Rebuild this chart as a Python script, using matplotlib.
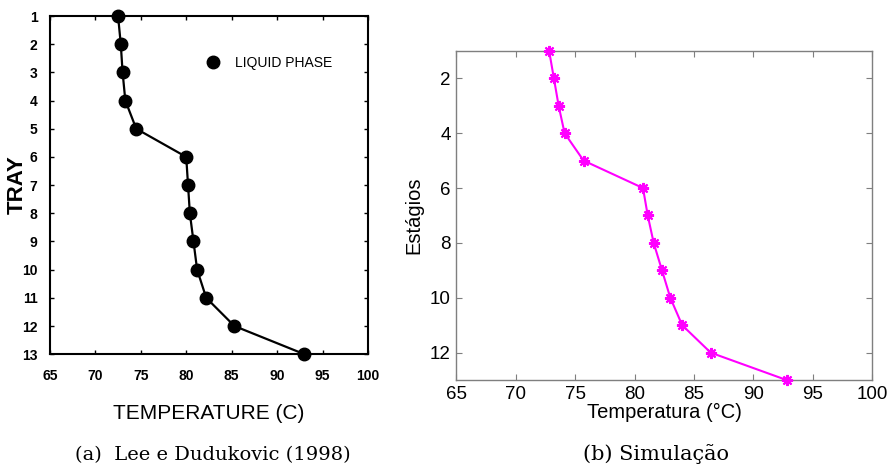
import matplotlib.pyplot as plt
from matplotlib.lines import Line2D

# Dados
estagios = list(range(1, 14))
temp_lee = [72.5, 72.8, 73.0, 73.3, 74.5, 80.0, 80.2, 80.4, 80.8, 81.2, 82.2, 85.3, 93.0]
temp_sim = [72.8, 73.2, 73.6, 74.1, 75.7, 80.7, 81.1, 81.6, 82.3, 83.0, 84.0, 86.4, 92.8]
xticks = [65, 70, 75, 80, 85, 90, 95, 100]

plt.rcParams['font.family'] = 'Liberation Sans'

fig = plt.figure(figsize=(8.91, 4.71), dpi=100)

# (a) Lee e Dudukovic
ax1 = fig.add_axes([0.056, 0.248, 0.357, 0.718])
ax1.plot(temp_lee, estagios, color='black', lw=1.6, marker='o', ms=9, clip_on=False, zorder=3)
ax1.set_xlim(65, 100)
ax1.set_ylim(13, 1)
ax1.set_xticks(xticks)
ax1.set_yticks(estagios)
ax1.tick_params(direction='in', top=True, right=True, length=3, width=1, labelsize=10)
ax1.tick_params(axis='x', pad=11)
ax1.tick_params(axis='y', pad=9)
for lab in ax1.get_xticklabels() + ax1.get_yticklabels():
    lab.set_fontweight('bold')
for s in ax1.spines.values():
    s.set_linewidth(1.5)
ax1.set_xlabel('TEMPERATURE (C)', fontsize=15, labelpad=15)
ax1.set_ylabel('TRAY', fontsize=16, fontweight='bold')
ax1.yaxis.set_label_coords(-0.07, 0.5)
h = Line2D([], [], color='black', marker='o', ms=9, ls='none')
ax1.legend([h], ['LIQUID PHASE'], loc='center left', bbox_to_anchor=(0.49, 0.862),
           borderaxespad=0, borderpad=0, handlelength=1, handletextpad=1.1,
           frameon=False, fontsize=10)

# (b) Simulação
cinza = '#7f7f7f'
ax2 = fig.add_axes([0.5123, 0.193, 0.4667, 0.699])
ax2.plot(temp_sim, estagios, color='#ff00ff', lw=1.5, marker=(8, 2, 0), ms=8, mew=1.5,
         clip_on=False, zorder=3)
ax2.set_xlim(65, 100)
ax2.set_ylim(13, 1)
ax2.set_xticks(xticks)
ax2.set_yticks([2, 4, 6, 8, 10, 12])
ax2.tick_params(direction='in', top=True, right=True, length=4, width=0.8, color=cinza,
                labelsize=13.5, pad=4)
for s in ax2.spines.values():
    s.set_color(cinza)
    s.set_linewidth(1)
ax2.set_xlabel('Temperatura (°C)', fontsize=14.5, labelpad=0)
ax2.set_ylabel('Estágios', fontsize=14.5, labelpad=5)

# Legendas das figuras
fig.text(0.239, 0.024, '(a)  Lee e Dudukovic (1998)', family='DejaVu Serif', fontsize=14,
         ha='center', va='baseline')
fig.text(0.736, 0.024, '(b) Simulação', family='DejaVu Serif', fontsize=15,
         ha='center', va='baseline')

fig.savefig('out.png', dpi=100)
